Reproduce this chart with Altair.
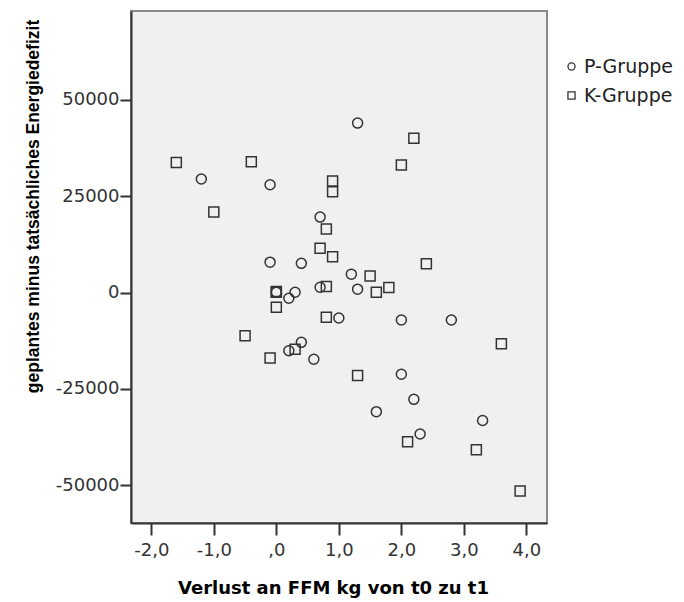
import altair as alt
import pandas as pd

# Verlust an fettfreier Masse (kg) und Energiedefizit-Differenz je Gruppe
p_ffm = [-1.2, -0.1, 0.7, -0.1, 0.4, 1.2, 1.3, 0.3, 0.2, 0.7, 1.3, 1.0,
         0.4, 0.2, 0.6, 2.0, 2.8, 2.0, 2.2, 1.6, 3.3, 2.3, 0.0]
p_def = [29500, 28000, 19600, 7900, 7600, 4800, 44000, 100, -1450, 1400, 900, -6600,
         -12900, -15100, -17300, -7100, -7100, -21200, -27700, -30900, -33200, -36700, 100]

k_ffm = [-1.6, -0.4, -1.0, 0.9, 0.9, 0.8, 0.7, 0.9, 2.2, 2.0, 2.4, 1.5,
         0.0, 0.0, 0.0, 0.8, 0.8, -0.5, 0.3, -0.1, 1.3, 1.6, 1.8, 3.6,
         2.1, 3.2, 3.9]
k_def = [33800, 34000, 20900, 29000, 26200, 16500, 11500, 9300, 40100, 33100, 7500, 4300,
         100, 300, -3800, 1600, -6400, -11200, -14700, -17000, -21500, 100, 1300, -13300,
         -38700, -40800, -51500]

groups = ["P-Gruppe", "K-Gruppe"]
x_ticks = [-2, -1, 0, 1, 2, 3, 4]
y_ticks = [-50000, -25000, 0, 25000, 50000]

df = pd.DataFrame({
    "ffm": p_ffm + k_ffm,
    "defizit": p_def + k_def,
    "gruppe": [groups[0]] * len(p_ffm) + [groups[1]] * len(k_ffm),
})

# German decimal comma, no leading zero (",0"), plain hyphen minus
x_label_expr = (
    "datum.value == 0 ? ',0' : (datum.value < 0 ? '-' : '') + "
    "replace(format(abs(datum.value), '.1f'), '.', ',')"
)
y_label_expr = "(datum.value < 0 ? '-' : '') + format(abs(datum.value), 'd')"

chart = (
    alt.Chart(df)
    .mark_point(filled=False, size=100, strokeWidth=1.5, color="#333333", opacity=1)
    .encode(
        x=alt.X(
            "ffm:Q",
            scale=alt.Scale(domain=[-2.325, 4.33], nice=False, zero=False),
            axis=alt.Axis(
                values=x_ticks,
                labelExpr=x_label_expr,
                title="Verlust an FFM kg von t0 zu t1",
                tickSize=12,
                labelPadding=6,
                titleFont="DejaVu Sans",
                titleFontSize=18,
                titleFontWeight="bold",
                titleX=202,
                titleY=70,
                titleAlign="center",
                titleBaseline="alphabetic",
            ),
        ),
        y=alt.Y(
            "defizit:Q",
            scale=alt.Scale(domain=[-59800, 73100], nice=False, zero=False),
            axis=alt.Axis(
                values=y_ticks,
                labelExpr=y_label_expr,
                title="geplantes minus tatsächliches Energiedefizit",
                tickSize=11,
                labelPadding=1,
                titleFont="Liberation Sans",
                titleFontSize=17.5,
                titleFontWeight="bold",
                titleAngle=270,
                titleX=-93,
                titleY=195,
                titleAlign="center",
                titleBaseline="alphabetic",
            ),
        ),
        shape=alt.Shape(
            "gruppe:N",
            scale=alt.Scale(domain=groups, range=["circle", "square"]),
            legend=alt.Legend(
                title=None,
                orient="none",
                legendX=431,
                legendY=46,
                symbolSize=50,
                symbolStrokeColor="#333333",
                symbolStrokeWidth=1.3,
                symbolFillColor="transparent",
                labelFont="DejaVu Sans",
                labelFontSize=19,
                labelColor="#222222",
                labelOffset=3,
                rowPadding=9,
            ),
        ),
    )
    .properties(
        width=416,
        height=512,
        padding={"left": 131, "top": 11, "right": 137, "bottom": 79},
        autosize=alt.AutoSizeParams(type="none"),
        background="white",
    )
    .configure_view(fill="#F0F0F0", stroke="#8a8a8a", strokeWidth=2)
    .configure_axis(
        grid=False,
        domainColor="#333333",
        domainWidth=2,
        tickColor="#333333",
        tickWidth=2,
        labelFont="DejaVu Sans",
        labelFontSize=18,
        labelColor="#333333",
        titleColor="#000000",
    )
)

chart.save("out.html", embed_options={"renderer": "svg", "actions": False})
